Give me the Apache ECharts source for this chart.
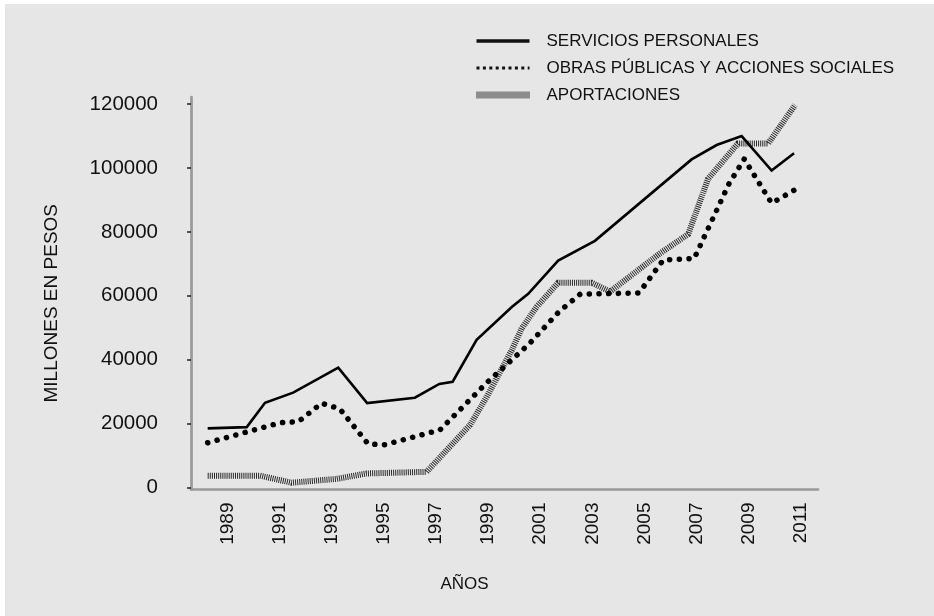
<!DOCTYPE html>
<html>
<head>
<meta charset="utf-8">
<script src="https://cdn.jsdelivr.net/npm/echarts@6/dist/echarts.min.js"></script>
<style>
  html, body { margin: 0; padding: 0; background: #ffffff; width: 934px; height: 616px; overflow: hidden; }
  #c { position: absolute; left: 5px; top: 4px; width: 929px; height: 612px; }
</style>
</head>
<body>
<div id="c"></div>
<script>
// ---- data ----
const yearTicks = [1989, 1991, 1993, 1995, 1997, 1999, 2001, 2003, 2005, 2007, 2009, 2011];
const valueTicks = [0, 20000, 40000, 60000, 80000, 100000, 120000];

const seriesNames = ['SERVICIOS PERSONALES', 'OBRAS PÚBLICAS Y ACCIONES SOCIALES', 'APORTACIONES'];

const serviciosYears = [1988.24, 1989.74, 1990.44, 1991.52, 1993.25, 1994.36, 1996.19, 1997.13, 1997.64, 1998.56, 1999.91, 2000.54, 2001.69, 2003.10, 2006.81, 2007.77, 2008.73, 2009.88, 2010.74];
const serviciosValues = [18500, 18900, 26500, 29700, 37500, 26400, 28100, 32400, 33100, 46200, 56500, 60600, 71000, 77200, 102700, 107200, 110000, 99200, 104600];

const obrasYears = [1988.24, 1991.04, 1991.72, 1992.61, 1993.31, 1994.40, 1995.04, 1997.15, 1998.95, 2000.57, 2001.72, 2002.53, 2004.79, 2005.72, 2006.91, 2008.24, 2008.83, 2009.88, 2010.80];
const obrasValues = [14000, 20300, 20600, 26400, 24600, 13600, 13400, 18000, 32800, 44900, 55000, 60500, 60900, 71200, 71700, 95000, 102800, 89000, 93300];

const aportYears = [1988.24, 1990.25, 1991.46, 1993.19, 1994.34, 1996.64, 1998.31, 1998.95, 1999.91, 2000.29, 2000.87, 2001.69, 2002.98, 2003.68, 2005.60, 2006.68, 2007.44, 2008.59, 2009.75, 2010.78];
const aportValues = [3700, 3700, 1500, 2700, 4400, 4900, 19600, 28400, 43000, 49800, 56600, 64100, 64100, 61300, 73300, 79300, 96600, 107700, 107700, 119700];

const pairs = (xs, ys) => xs.map((x, i) => [x, ys[i]]);

const FONT = '"Liberation Sans", Arial, sans-serif';
const chart = echarts.init(document.getElementById('c'), null, { renderer: 'canvas' });

const hiddenSymbol = { color: 'rgba(0,0,0,0)', borderWidth: 0, opacity: 0 };

chart.setOption({
  animation: false,
  backgroundColor: '#e6e6e6',
  textStyle: { fontFamily: FONT, color: '#111' },
  grid: { left: 186, right: 116, top: 93, bottom: 126.5, containLabel: false },
  legend: {
    orient: 'vertical',
    left: 468,
    top: 27,
    padding: 0,
    itemWidth: 53,
    itemHeight: 14,
    itemGap: 7,
    selectedMode: false,
    itemStyle: hiddenSymbol,
    textStyle: { fontFamily: FONT, fontSize: 17, color: '#111', lineHeight: 20, padding: [0, 0, 0, 12] },
    data: [
      { name: seriesNames[0], itemStyle: hiddenSymbol, lineStyle: { width: 3.5, color: '#111', type: 'solid', opacity: 1 } },
      { name: seriesNames[1], itemStyle: hiddenSymbol, lineStyle: { width: 3, color: '#111', type: [3, 3.4], cap: 'butt', opacity: 1 } },
      { name: seriesNames[2], itemStyle: hiddenSymbol, lineStyle: { width: 7, color: '#333', type: [1, 1], cap: 'butt', opacity: 1 } }
    ]
  },
  xAxis: {
    type: 'value',
    min: 1987.6,
    max: 2011.66,
    name: 'AÑOS',
    nameLocation: 'middle',
    nameGap: 86,
    nameTextStyle: { fontFamily: FONT, fontSize: 17, color: '#111', padding: [0, 80, 0, 0] },
    splitLine: { show: false },
    axisLine: { show: true, onZero: false, lineStyle: { color: '#9a9a9a', width: 2.7 } },
    axisTick: { show: false },
    axisLabel: {
      customValues: yearTicks,
      rotate: 90,
      margin: 13,
      fontFamily: FONT,
      fontSize: 19,
      color: '#111',
      formatter: v => String(v)
    }
  },
  yAxis: {
    type: 'value',
    min: -626,
    max: 122226,
    name: 'MILLONES EN PESOS',
    nameLocation: 'middle',
    nameGap: 130,
    nameRotate: 90,
    nameTextStyle: { fontFamily: FONT, fontSize: 19, color: '#111', padding: [0, 20, 0, 0] },
    splitLine: { show: false },
    axisLine: { show: true, lineStyle: { color: '#9a9a9a', width: 2.7 } },
    axisTick: { show: true, customValues: valueTicks, length: 4, lineStyle: { color: '#222', width: 1.5 } },
    axisLabel: {
      customValues: valueTicks,
      margin: 33,
      fontFamily: FONT,
      fontSize: 20.5,
      color: '#111',
      formatter: v => String(v)
    }
  },
  series: [
    {
      name: seriesNames[2],
      type: 'line',
      symbol: 'none',
      silent: true,
      data: pairs(aportYears, aportValues),
      lineStyle: { color: '#2a2a2a', width: 6, type: [1, 1.1], cap: 'butt', join: 'miter' }
    },
    {
      name: seriesNames[1],
      type: 'line',
      symbol: 'none',
      silent: true,
      data: pairs(obrasYears, obrasValues),
      lineStyle: { color: '#000', width: 5.5, type: [0.1, 9.6], cap: 'round' }
    },
    {
      name: seriesNames[0],
      type: 'line',
      symbol: 'none',
      silent: true,
      data: pairs(serviciosYears, serviciosValues),
      lineStyle: { color: '#000', width: 2.6, type: 'solid', join: 'miter' }
    }
  ]
});
</script>
</body>
</html>
